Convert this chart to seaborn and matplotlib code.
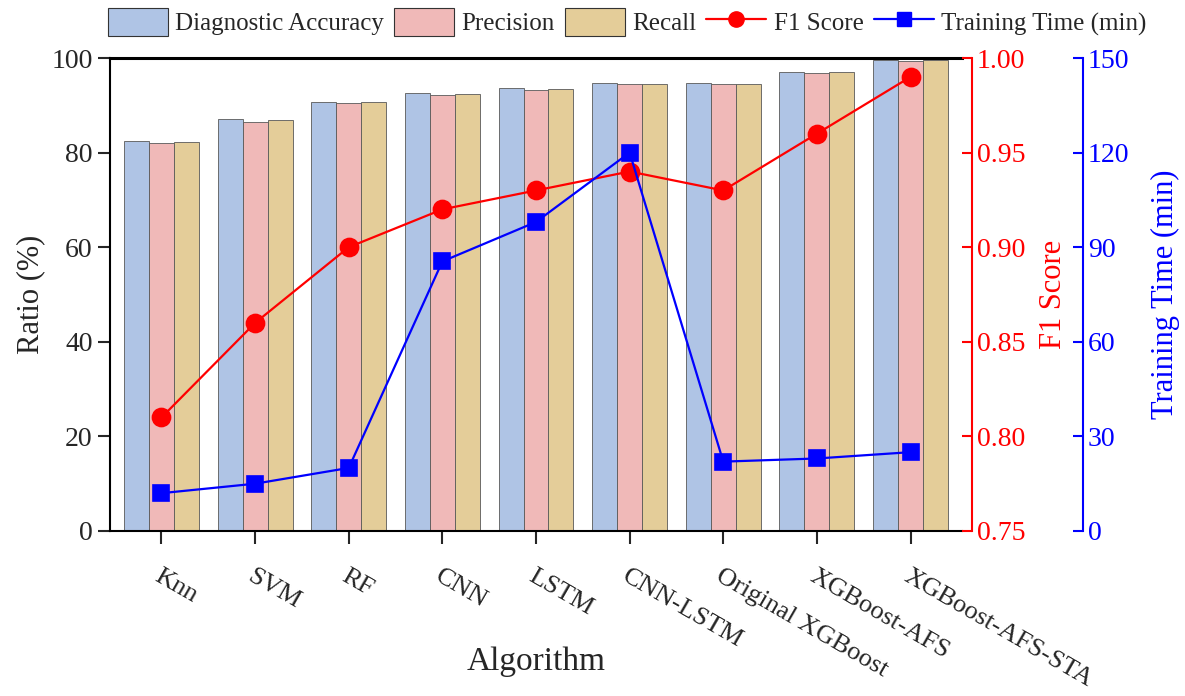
import pandas as pd
import matplotlib
matplotlib.use("Agg")
import matplotlib.pyplot as plt
import matplotlib.transforms as mtransforms
import seaborn as sns
from matplotlib.patches import Patch
from matplotlib.lines import Line2D
from matplotlib.ticker import FormatStrFormatter, MultipleLocator

# data
algorithms = ["Knn", "SVM", "RF", "CNN", "LSTM", "CNN-LSTM",
              "Original XGBoost", "XGBoost-AFS", "XGBoost-AFS-STA"]
accuracy = [82.4, 87.0, 90.8, 92.5, 93.7, 94.8, 94.8, 97.1, 99.5]
precision = [82.0, 86.5, 90.4, 92.1, 93.3, 94.4, 94.6, 96.9, 99.3]
recall = [82.2, 86.8, 90.6, 92.3, 93.5, 94.6, 94.4, 97.1, 99.6]
f1_score = [0.81, 0.86, 0.90, 0.92, 0.93, 0.94, 0.93, 0.96, 0.99]
train_time = [12.0, 15.0, 20.0, 85.5, 98.0, 120.0, 22.0, 23.0, 25.0]

metric_names = ["Diagnostic Accuracy", "Precision", "Recall"]
bar_colors = ["#AFC4E5", "#F0B9B8", "#E4CD99"]

sns.set_style("ticks")
plt.rcParams["font.family"] = ["Liberation Serif", "DejaVu Serif"]

bars = pd.DataFrame({
    "Algorithm": algorithms * 3,
    "Metric": [m for m in metric_names for _ in algorithms],
    "Ratio": accuracy + precision + recall,
})
lines = pd.DataFrame({"Algorithm": algorithms, "F1": f1_score, "Time": train_time})

fig = plt.figure(figsize=(11.85, 6.96), dpi=100)
ax = fig.add_axes([110 / 1185, 1 - 531 / 696, (962 - 110) / 1185, (531 - 58) / 696])

sns.barplot(data=bars, x="Algorithm", y="Ratio", hue="Metric", hue_order=metric_names,
            palette=bar_colors, saturation=1, width=0.8, gap=0, edgecolor="0.35",
            linewidth=0.6, errorbar=None, legend=False, ax=ax)

# F1 score on first right axis
ax_f1 = ax.twinx()
sns.pointplot(data=lines, x="Algorithm", y="F1", color="red", marker="o",
              markersize=13, linewidth=1.6, errorbar=None, ax=ax_f1)

# training time on second right axis
ax_t = ax.twinx()
sns.pointplot(data=lines, x="Algorithm", y="Time", color="blue", marker="s",
              markersize=12, linewidth=1.6, errorbar=None, ax=ax_t)

ax.set_ylim(0, 100)
ax.yaxis.set_major_locator(MultipleLocator(20))
ax.set_ylabel("Ratio (%)", fontsize=22)
ax.set_xlabel("Algorithm", fontsize=24)
ax.xaxis.set_label_coords(0.5, -0.245)
ax.set_xticks(range(len(algorithms)))
ax.set_xticklabels(algorithms, rotation=-30, ha="left", va="top",
                   rotation_mode="anchor", fontsize=19)
shift = mtransforms.ScaledTranslation(-10 / 100, 0, fig.dpi_scale_trans)
for lbl in ax.get_xticklabels():
    lbl.set_transform(lbl.get_transform() + shift)
ax.tick_params(axis="y", labelsize=20, length=9, width=1.5, direction="out")
ax.tick_params(axis="x", length=9.5, width=1.5, direction="out", pad=15)
for side in ["left", "bottom", "top"]:
    ax.spines[side].set_linewidth(1.5)
    ax.spines[side].set_color("black")
ax.spines["top"].set_linewidth(2.2)
ax.spines["right"].set_visible(False)

ax_f1.set_ylim(0.75, 1.00)
ax_f1.yaxis.set_major_locator(MultipleLocator(0.05))
ax_f1.yaxis.set_major_formatter(FormatStrFormatter("%.2f"))
ax_f1.set_ylabel("F1 Score", color="red", fontsize=22, labelpad=10)
ax_f1.tick_params(axis="y", colors="red", labelsize=20, length=7, width=1.5,
                  direction="in")
ax_f1.spines["right"].set_position(("outward", 7))
ax_f1.spines["right"].set_color("red")
ax_f1.spines["right"].set_linewidth(1.5)
for side in ["left", "top", "bottom"]:
    ax_f1.spines[side].set_visible(False)

ax_t.set_ylim(0, 150)
ax_t.yaxis.set_major_locator(MultipleLocator(30))
ax_t.set_ylabel("Training Time (min)", color="blue", fontsize=22, labelpad=16)
ax_t.tick_params(axis="y", colors="blue", labelsize=20, length=7, width=1.5,
                 direction="in")
ax_t.spines["right"].set_position(("outward", 87))
ax_t.spines["right"].set_color("blue")
ax_t.spines["right"].set_linewidth(1.5)
for side in ["left", "top", "bottom"]:
    ax_t.spines[side].set_visible(False)

ax.set_xlim(-0.55, len(algorithms) - 0.45)

handles = [Patch(facecolor=c, edgecolor="0.2", linewidth=0.8) for c in bar_colors]
handles += [
    Line2D([], [], color="red", marker="o", markersize=11, linewidth=1.6),
    Line2D([], [], color="blue", marker="s", markersize=10, linewidth=1.6),
]
labels = metric_names + ["F1 Score", "Training Time (min)"]
fig.legend(handles, labels, loc="center", bbox_to_anchor=(627 / 1185, 1 - 22 / 696),
           ncol=5, frameon=False, fontsize=18, handlelength=2.4, handleheight=1.4,
           handletextpad=0.3, columnspacing=0.4, borderaxespad=0)

fig.savefig("out.png", dpi=100)
plt.close(fig)
